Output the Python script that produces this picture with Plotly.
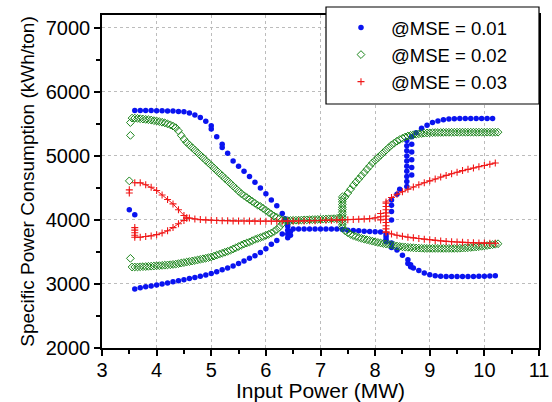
import plotly.graph_objects as go

# ---------------- data ----------------
# @MSE = 0.01 (blue dots)
blue_ul_x = [3.6,3.7,3.8,3.9,4.0,4.1,4.2,4.3,4.4,4.5,4.6,4.7,4.8,4.9,5.0,5.0,5.1,5.2,5.2,5.3,5.4,5.5,5.6,5.7,5.8,5.9,6.0,6.1,6.2,6.3]
blue_ul_y = [5710,5710,5710,5710,5705,5705,5700,5700,5695,5690,5670,5640,5600,5540,5470,5420,5300,5180,5130,5040,4920,4840,4760,4680,4590,4500,4410,4310,4220,4100]
blue_n1_x = [6.35,6.4,6.4,6.4,6.4,6.4,6.45,6.45]
blue_n1_y = [4020,3720,3780,3840,3900,3960,3760,3820]
blue_ll_x = [3.6,3.7,3.8,3.9,4.0,4.1,4.2,4.3,4.4,4.5,4.6,4.7,4.8,4.9,5.0,5.1,5.2,5.3,5.4,5.5,5.6,5.7,5.8,5.9,6.0,6.1,6.2,6.3]
blue_ll_y = [2920,2940,2955,2970,2985,3000,3015,3035,3050,3065,3085,3100,3120,3140,3165,3190,3220,3250,3280,3320,3360,3400,3440,3490,3550,3620,3680,3780]
blue_out_x = [3.5,3.6]
blue_out_y = [4160,4080]
blue_mid_x = [6.5,6.6,6.7,6.8,6.9,7.0,7.1,7.2,7.3,7.4,7.5,7.6,7.7,7.8,7.9,8.0,8.1]
blue_mid_y = [3860,3860,3860,3860,3860,3860,3860,3860,3860,3850,3840,3835,3830,3825,3820,3815,3810]
blue_n2_x = [8.2,8.2,8.2,8.2,8.3,8.3,8.3,8.3,8.4,8.45]
blue_n2_y = [3660,3700,3740,3780,4000,4130,4230,4310,4400,4480]
blue_ur_x = [8.58,8.58,8.58,8.58,8.58,8.58,8.58,8.58,8.58,8.58,8.67,8.67,8.67,8.67,8.67,8.67,
             8.75,8.85,8.95,9.05,9.15,9.25,9.35,9.45,9.55,9.65,9.75,9.85,9.95,10.05,10.15]
blue_ur_y = [4520,4600,4680,4760,4840,4920,5000,5080,5160,5240,4700,4820,4940,5060,5180,5300,
             5360,5430,5480,5520,5545,5565,5575,5580,5585,5585,5585,5585,5585,5585,5585]
blue_lr_x = [8.3,8.3,8.4,8.5,8.6,8.6,8.65,8.65,8.7,8.8,8.9,9.0,9.1,9.2,9.3,9.4,9.5,9.6,9.7,9.8,9.9,10.0,10.1,10.2]
blue_lr_y = [3640,3570,3530,3450,3380,3320,3270,3300,3250,3210,3170,3145,3130,3120,3115,3115,3115,3115,3115,3115,3120,3120,3125,3130]

# @MSE = 0.02 (green open diamonds)
green_ul_x = [3.55,3.6,3.65,3.7,3.75,3.8,3.85,3.9,3.95,4.0,4.05,4.1,4.15,4.2,4.25,4.3,4.35,4.4,4.45,4.5,
              4.55,4.6,4.65,4.7,4.75,4.8,4.85,4.9,4.95,5.0,5.05,5.1,5.15,5.2,5.25,5.3,5.35,5.4,5.45,5.5,
              5.55,5.6,5.65,5.7,5.75,5.8,5.85,5.9,5.95,6.0,6.05,6.1,6.15,6.2,6.25,6.3]
green_ul_y = [5590,5590,5585,5580,5575,5570,5565,5560,5550,5545,5535,5525,5515,5500,5485,5465,5440,5390,5320,5260,
              5210,5170,5130,5090,5050,5010,4970,4930,4890,4850,4810,4770,4730,4690,4650,4610,4570,4530,4490,4450,
              4410,4380,4350,4320,4290,4260,4230,4210,4180,4150,4120,4090,4060,4040,4020,4000]
green_ll_x = green_ul_x
green_ll_y = [3265,3265,3265,3268,3270,3272,3275,3278,3280,3283,3286,3290,3293,3297,3300,3305,3310,3318,3326,3334,
              3342,3350,3358,3366,3375,3384,3393,3402,3412,3422,3435,3450,3465,3480,3495,3510,3525,3545,3565,3585,
              3605,3625,3640,3655,3675,3695,3710,3725,3740,3760,3775,3795,3820,3850,3890,3940]
green_out_x = [3.52,3.52,3.5,3.52]
green_out_y = [5520,5320,4610,3400]
green_mid_x = [6.35,6.4,6.45,6.5,6.55,6.6,6.65,6.7,6.75,6.8,6.85,6.9,6.95,7.0,7.05,7.1,7.15,7.2,7.25,7.3,7.35]
green_mid_y = [3990,3990,3992,3994,3995,3996,3998,4000,4001,4003,4004,4006,4008,4010,4012,4014,4016,4018,4020,4024,4030]
green_n_x = [7.4,7.4,7.4,7.4,7.4,7.4,7.4,7.4,7.4,7.4,7.4,7.4,7.4]
green_n_y = [3880,3920,3960,4000,4040,4080,4120,4160,4200,4240,4280,4320,4360]
green_ur_x = [7.45,7.5,7.55,7.6,7.65,7.7,7.75,7.8,7.85,7.9,7.95,8.0,8.05,8.1,8.15,8.2,8.25,8.3,8.35,8.4,
              8.45,8.5,8.55,8.6,8.65,8.7,8.75,8.8,8.85,8.9,8.95,9.0,9.05,9.1,9.15,9.2,9.25,9.3,9.35,9.4,
              9.45,9.5,9.55,9.6,9.65,9.7,9.75,9.8,9.85,9.9,9.95,10.0,10.05,10.1,10.15,10.2,10.25]
green_ur_y = [4360,4420,4480,4540,4590,4640,4690,4740,4790,4840,4890,4930,4970,5010,5050,5090,5130,5170,5200,5230,
              5255,5275,5295,5310,5320,5330,5338,5345,5350,5355,5358,5360,5362,5364,5365,5366,5367,5368,5368,5369,
              5369,5370,5370,5370,5370,5370,5370,5370,5370,5370,5370,5370,5370,5370,5370,5370,5370]
green_lr_x = green_ur_x
green_lr_y = [3830,3800,3775,3755,3740,3725,3712,3700,3690,3680,3668,3658,3648,3640,3632,3625,3618,3610,3600,3592,
              3586,3580,3576,3572,3568,3565,3562,3560,3558,3556,3555,3555,3555,3555,3555,3555,3555,3555,3555,3555,
              3555,3556,3558,3560,3563,3566,3570,3574,3578,3583,3588,3594,3600,3607,3614,3620,3628]

# @MSE = 0.03 (red crosses)
red_ul_x = [3.6,3.7,3.8,3.9,4.0,4.1,4.2,4.3,4.4,4.5,4.55]
red_ul_y = [4580,4580,4550,4510,4460,4390,4320,4250,4160,4070,4030]
red_ll_x = [3.6,3.6,3.6,3.6,3.6,3.7,3.8,3.9,4.0,4.1,4.2,4.3,4.4,4.5,4.55]
red_ll_y = [3880,3840,3800,3760,3730,3730,3740,3750,3770,3795,3830,3880,3940,3990,4030]
red_out_x = [3.5,3.5]
red_out_y = [4470,4420]
red_mid_x = [4.6,4.7,4.8,4.9,5.0,5.1,5.2,5.3,5.4,5.5,5.6,5.7,5.8,5.9,6.0,6.1,6.2,6.3,6.4,6.5,
             6.6,6.7,6.8,6.9,7.0,7.1,7.2,7.3,7.4,7.5,7.6,7.7,7.8,7.9,8.0,8.1]
red_mid_y = [4030,4015,4005,4000,3995,3990,3988,3986,3985,3984,3983,3982,3981,3980,3980,3980,3980,3980,3981,3982,
             3983,3985,3987,3989,3991,3993,3995,3997,4000,4003,4006,4010,4015,4020,4030,4050]
red_c_x = [8.1,8.1]
red_c_y = [4000,4100]
red_n_x = [8.2,8.2,8.2,8.2,8.2,8.2,8.2,8.2,8.2,8.2]
red_n_y = [3810,3860,3910,3960,4010,4060,4110,4160,4210,4260]
red_ur_x = [8.2,8.3,8.4,8.5,8.6,8.7,8.8,8.9,9.0,9.1,9.2,9.3,9.4,9.5,9.6,9.7,9.8,9.9,10.0,10.1,10.2]
red_ur_y = [4280,4350,4400,4440,4480,4515,4550,4580,4610,4640,4670,4695,4720,4745,4770,4790,4810,4830,4850,4870,4890]
red_lr_x = red_ur_x
red_lr_y = [3810,3780,3760,3745,3730,3720,3710,3700,3690,3680,3672,3665,3660,3655,3650,3646,3642,3640,3638,3636,3635]

x_ticks = [3, 4, 5, 6, 7, 8, 9, 10, 11]
y_ticks = [2000, 3000, 4000, 5000, 6000, 7000]
names = ["@MSE = 0.01", "@MSE = 0.02", "@MSE = 0.03"]


def joined(segs, gaps=False):
    xs, ys = [], []
    for sx, sy in segs:
        xs += list(sx)
        ys += list(sy)
        if gaps:
            xs.append(None)
            ys.append(None)
    return xs, ys


bx, by = joined([(blue_ul_x, blue_ul_y), (blue_n1_x, blue_n1_y), (blue_ll_x, blue_ll_y),
                 (blue_out_x, blue_out_y), (blue_mid_x, blue_mid_y), (blue_n2_x, blue_n2_y),
                 (blue_ur_x, blue_ur_y), (blue_lr_x, blue_lr_y)])
gx, gy = joined([(green_ul_x, green_ul_y), (green_ll_x, green_ll_y), (green_out_x, green_out_y),
                 (green_mid_x, green_mid_y), (green_n_x, green_n_y), (green_ur_x, green_ur_y),
                 (green_lr_x, green_lr_y)])
rsegs = [(red_ul_x + red_mid_x, red_ul_y + red_mid_y), (red_ll_x, red_ll_y), (red_out_x[:1], red_out_y[:1]),
         (red_out_x[1:], red_out_y[1:]), (red_c_x, red_c_y), (red_n_x, red_n_y),
         (red_ur_x, red_ur_y), (red_lr_x, red_lr_y)]
rx, ry = joined(rsegs, gaps=True)

FONT = "Arial, Liberation Sans, sans-serif"
BLUE = "#0a14f0"
GREEN = "#1d861d"
RED = "#f01818"

fig = go.Figure()
fig.add_trace(go.Scatter(x=bx, y=by, mode="markers", name=names[0],
                         marker=dict(symbol="circle", size=5.5, color=BLUE)))
fig.add_trace(go.Scatter(x=gx, y=gy, mode="markers", name=names[1],
                         marker=dict(symbol="diamond-open", size=6, color=GREEN,
                                     line=dict(width=1, color=GREEN))))
fig.add_trace(go.Scatter(x=rx, y=ry, mode="lines", showlegend=False, hoverinfo="skip",
                         line=dict(color=RED, width=1)))
fig.add_trace(go.Scatter(x=rx, y=ry, mode="markers", name=names[2],
                         marker=dict(symbol="cross-thin", size=5, color=RED,
                                     line=dict(width=1.1, color=RED))))

axis_common = dict(
    showline=True, linecolor="black", linewidth=1.5, mirror=True,
    ticks="outside", ticklen=6, tickwidth=1.5, tickcolor="black",
    showgrid=True, gridcolor="#bcbcbc", griddash="dot", gridwidth=1,
    zeroline=False, automargin=False,
    tickfont=dict(family=FONT, size=20, color="black"),
)

fig.update_xaxes(range=[3, 11], tickvals=x_ticks, ticklabelstandoff=-3,
                 minor=dict(ticks="outside", ticklen=4, tickwidth=1.5, tickcolor="black",
                            dtick=0.5, tick0=3, showgrid=False),
                 title=dict(text="Input Power (MW)", font=dict(family=FONT, size=21, color="black"),
                            standoff=2),
                 **axis_common)
fig.update_yaxes(range=[2000, 7200], tickvals=y_ticks,
                 minor=dict(ticks="outside", ticklen=4, tickwidth=1.5, tickcolor="black",
                            dtick=500, tick0=2000, showgrid=False),
                 title=dict(text="Specific Power Consumption (kWh/ton)",
                            font=dict(family=FONT, size=19, color="black"), standoff=6),
                 **axis_common)

fig.add_shape(type="rect", xref="paper", yref="paper", x0=0.5126, x1=1.0, y0=0.7327, y1=1.024,
              fillcolor="white", line=dict(color="black", width=1.2), layer="above")

fig.update_layout(
    width=552, height=402,
    margin=dict(l=102, r=13, t=15, b=54, autoexpand=False),
    paper_bgcolor="white", plot_bgcolor="white",
    font=dict(family=FONT, color="black"),
    legend=dict(x=0.524, y=1.018, xanchor="left", yanchor="top",
                bgcolor="rgba(0,0,0,0)", borderwidth=0, itemwidth=50,
                font=dict(family=FONT, size=18.5, color="black")),
)

fig.write_html("out.html")
